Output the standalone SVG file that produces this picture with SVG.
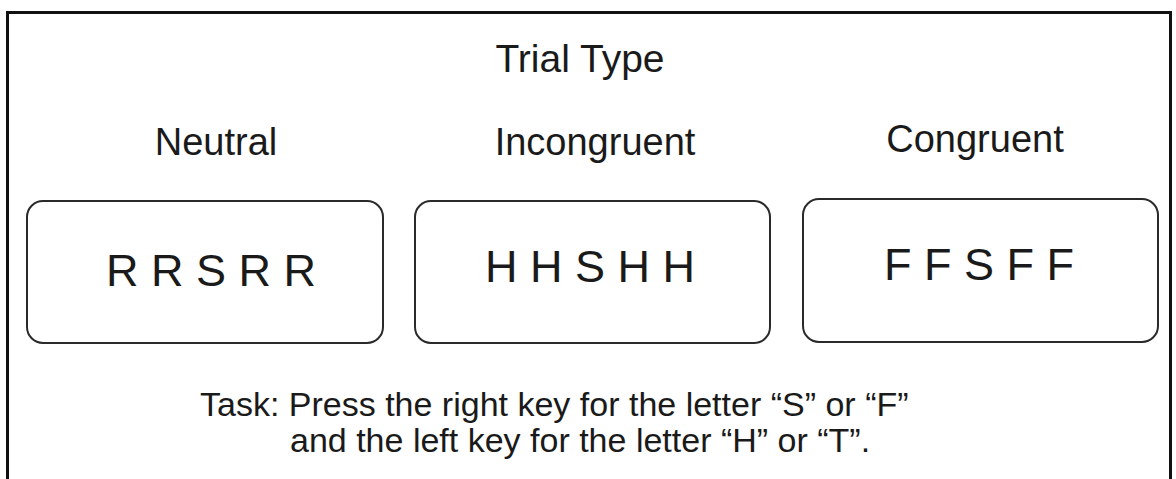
<svg xmlns="http://www.w3.org/2000/svg" width="1176" height="479" viewBox="0 0 1176 479">
  <style>
    .frame { fill: none; stroke: #111; stroke-width: 3; }
    .box { fill: #fff; stroke: #2a2a2a; stroke-width: 2; }
    .lbl { font-family: "Liberation Sans", Arial, sans-serif; fill: #1a1a1a; }
    .head { font-size: 38px; text-anchor: middle; }
    .title { font-size: 39px; text-anchor: middle; }
    .seq { font-size: 45px; text-anchor: middle; }
    .note { font-size: 34px; }
  </style>
  <rect width="1176" height="479" fill="#fff"/>
  <!-- open frame: left, top and right edges -->
  <path class="frame" d="M7.5,479 V12.5 H1170.5 V479"/>

  <text class="lbl title" x="580" y="72">Trial Type</text>

  <g id="neutral">
    <text class="lbl head" x="216" y="155">Neutral</text>
    <rect class="box" x="27" y="201" width="356" height="142" rx="16"/>
    <text class="lbl seq" x="211" y="286">R R S R R</text>
  </g>

  <g id="incongruent">
    <text class="lbl head" x="595" y="155">Incongruent</text>
    <rect class="box" x="415" y="201" width="355" height="142" rx="16"/>
    <text class="lbl seq" x="590" y="282">H H S H H</text>
  </g>

  <g id="congruent">
    <text class="lbl head" x="975" y="152">Congruent</text>
    <rect class="box" x="803" y="199" width="355" height="143" rx="16"/>
    <text class="lbl seq" x="979" y="280">F F S F F</text>
  </g>

  <g id="connectors"></g>

  <g id="task">
    <text class="lbl note" x="200" y="416">Task: Press the right key for the letter “S” or “F”</text>
    <text class="lbl note" x="290" y="452">and the left key for the letter “H” or “T”.</text>
  </g>
</svg>
